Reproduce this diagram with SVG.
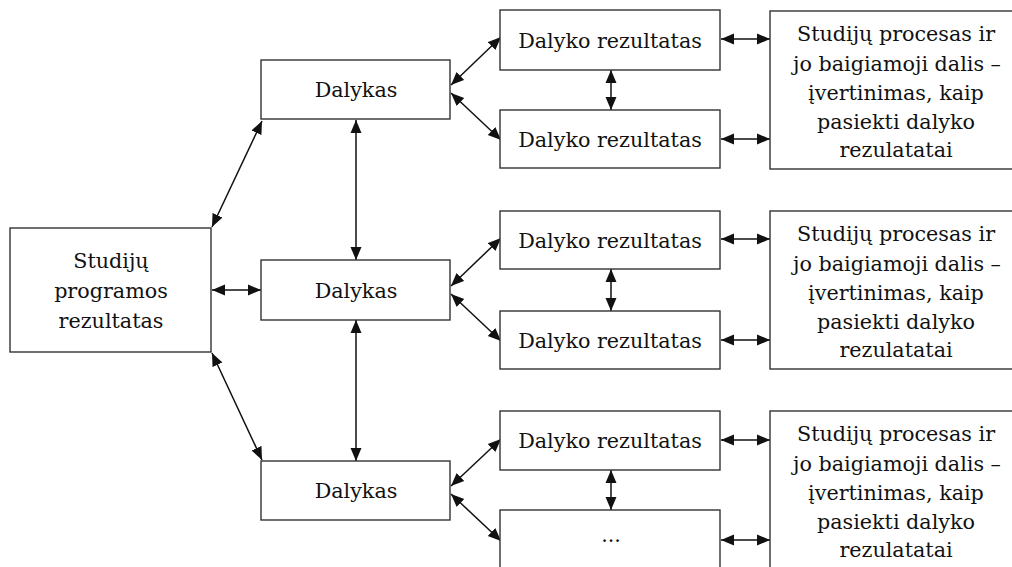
<svg xmlns="http://www.w3.org/2000/svg" width="1012" height="567" viewBox="0 0 1012 567" font-family="DejaVu Serif, serif">
<defs>
<style>
.box{fill:#fff;stroke:#333;stroke-width:1.4}
.t{font-size:20.7px;fill:#111;text-anchor:middle}
.c{stroke:#111;stroke-width:1.5;fill:none}
</style>
<marker id="ah" markerUnits="userSpaceOnUse" markerWidth="14" markerHeight="12" refX="13" refY="5.5" orient="auto-start-reverse" viewBox="0 0 14 11">
<path d="M0,0 L13,5.5 L0,11 z" fill="#111"/>
</marker>
</defs>
<rect width="1012" height="567" fill="#fff"/>
<g id="connectors" marker-start="url(#ah)" marker-end="url(#ah)">
<line class="c" x1="212" y1="227" x2="262" y2="121"/>
<line class="c" x1="212" y1="290" x2="261" y2="290"/>
<line class="c" x1="212" y1="353" x2="262" y2="460"/>
<line class="c" x1="356" y1="120" x2="356" y2="260"/>
<line class="c" x1="356" y1="320" x2="356" y2="461"/>
<line class="c" x1="451" y1="85" x2="501" y2="37"/>
<line class="c" x1="451" y1="93" x2="501" y2="140"/>
<line class="c" x1="451" y1="286" x2="501" y2="238"/>
<line class="c" x1="451" y1="294" x2="501" y2="341"/>
<line class="c" x1="451" y1="486" x2="501" y2="439"/>
<line class="c" x1="451" y1="494" x2="501" y2="541"/>
<line class="c" x1="611" y1="70" x2="611" y2="110"/>
<line class="c" x1="611" y1="269" x2="611" y2="311"/>
<line class="c" x1="611" y1="470" x2="611" y2="510"/>
<line class="c" x1="721" y1="39" x2="770" y2="39"/>
<line class="c" x1="721" y1="139" x2="770" y2="139"/>
<line class="c" x1="721" y1="239" x2="770" y2="239"/>
<line class="c" x1="721" y1="340" x2="770" y2="340"/>
<line class="c" x1="721" y1="440" x2="770" y2="440"/>
<line class="c" x1="721" y1="540" x2="770" y2="540"/>
</g>
<g id="program">
<rect class="box" x="10" y="228" width="201" height="124"/>
<text class="t" x="111" y="268">Studijų</text>
<text class="t" x="111" y="298">programos</text>
<text class="t" x="111" y="328">rezultatas</text>
</g>
<g id="dalykas1"><rect class="box" x="261" y="60" width="189" height="59"/><text class="t" x="356" y="97">Dalykas</text></g>
<g id="dalykas2"><rect class="box" x="261" y="260" width="189" height="60"/><text class="t" x="356" y="298">Dalykas</text></g>
<g id="dalykas3"><rect class="box" x="261" y="461" width="189" height="59"/><text class="t" x="356" y="498">Dalykas</text></g>
<g id="rez1"><rect class="box" x="500" y="10" width="220" height="60"/><text class="t" x="610" y="48">Dalyko rezultatas</text></g>
<g id="rez2"><rect class="box" x="500" y="110" width="220" height="58"/><text class="t" x="610" y="147">Dalyko rezultatas</text></g>
<g id="rez3"><rect class="box" x="500" y="211" width="220" height="58"/><text class="t" x="610" y="248">Dalyko rezultatas</text></g>
<g id="rez4"><rect class="box" x="500" y="311" width="220" height="58"/><text class="t" x="610" y="348">Dalyko rezultatas</text></g>
<g id="rez5"><rect class="box" x="500" y="411" width="220" height="59"/><text class="t" x="610" y="448">Dalyko rezultatas</text></g>
<g id="rez6"><rect class="box" x="500" y="510" width="220" height="70"/><text class="t" x="611" y="542">...</text></g>
<g id="proc1">
<rect class="box" x="770" y="11" width="255" height="158"/>
<text class="t" x="896" y="41">Studijų procesas ir</text>
<text class="t" x="897" y="71">jo baigiamoji dalis –</text>
<text class="t" x="896" y="100">įvertinimas, kaip</text>
<text class="t" x="896" y="129">pasiekti dalyko</text>
<text class="t" x="896" y="157">rezulatatai</text>
</g>
<g id="proc2">
<rect class="box" x="770" y="211" width="255" height="158"/>
<text class="t" x="896" y="241">Studijų procesas ir</text>
<text class="t" x="897" y="271">jo baigiamoji dalis –</text>
<text class="t" x="896" y="300">įvertinimas, kaip</text>
<text class="t" x="896" y="329">pasiekti dalyko</text>
<text class="t" x="896" y="357">rezulatatai</text>
</g>
<g id="proc3">
<rect class="box" x="770" y="411" width="255" height="170"/>
<text class="t" x="896" y="441">Studijų procesas ir</text>
<text class="t" x="897" y="471">jo baigiamoji dalis –</text>
<text class="t" x="896" y="500">įvertinimas, kaip</text>
<text class="t" x="896" y="529">pasiekti dalyko</text>
<text class="t" x="896" y="557">rezulatatai</text>
</g>
</svg>
